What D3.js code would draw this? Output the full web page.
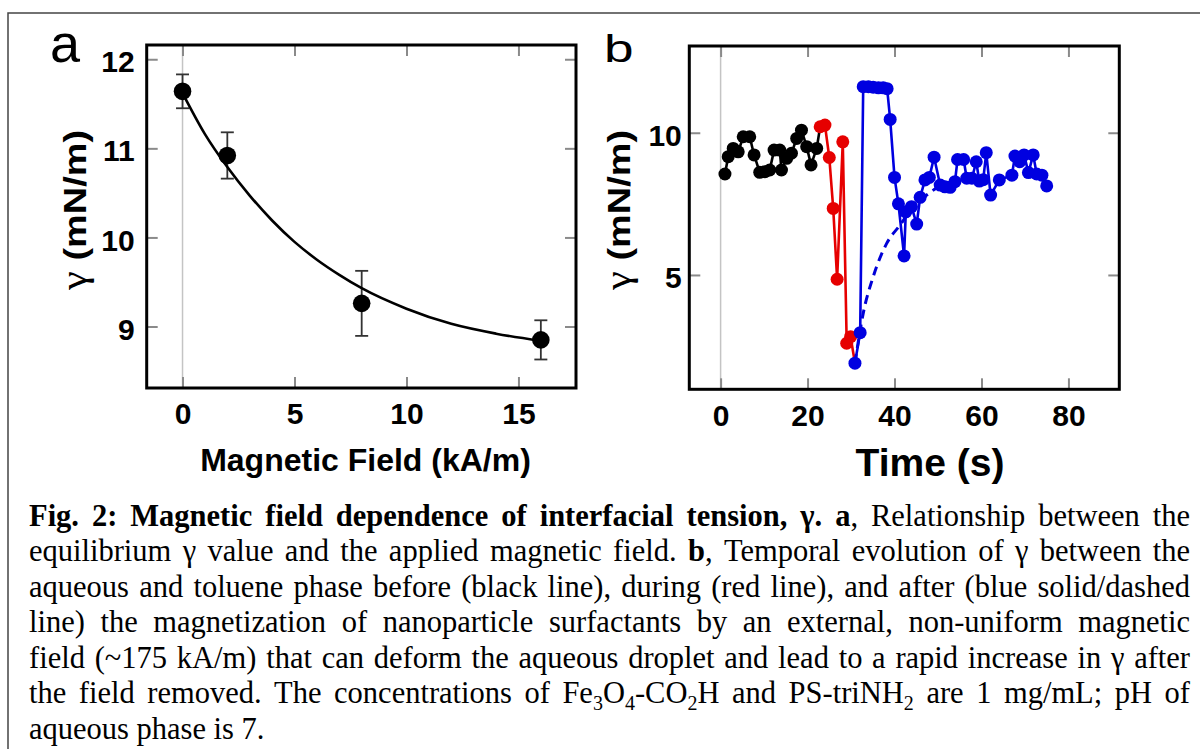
<!DOCTYPE html>
<html>
<head>
<meta charset="utf-8">
<script src="https://cdn.jsdelivr.net/npm/d3@7"></script>
<style>
body { margin: 0; background: #fff; }
svg { display: block; }
</style>
</head>
<body>
<svg id="fig" width="1200" height="749"></svg>
<script>
// ---- panel a: equilibrium tension vs field
const fieldKA = [0, 2, 8, 16];
const gammaA = [11.64, 10.92, 9.26, 8.85];
const errA = [0.19, 0.26, 0.365, 0.22];
const fitField = [0, 1, 2, 3, 4, 5, 6, 7, 8, 10, 12, 14, 16];
const fitGamma = [11.62, 11.16, 10.79, 10.47, 10.19, 9.95, 9.75, 9.58, 9.43, 9.20, 9.03, 8.92, 8.84];
const ticksAx = [0, 5, 10, 15];
const ticksAy = [9, 10, 11, 12];

// ---- panel b: tension vs time
const blackT = [1.0, 1.75, 2.9, 4.05, 5.2, 6.7, 7.7, 9.0, 10.2, 11.3, 12.3, 13.6, 14.0, 15.2, 16.3, 17.5, 18.6, 19.8, 20.8, 22.1];
const blackV = [8.55, 9.16, 9.45, 9.33, 9.86, 9.86, 9.22, 8.61, 8.63, 8.69, 9.39, 9.39, 8.69, 9.1, 9.28, 9.8, 10.09, 9.51, 8.87, 9.45];
const redT = [22.9, 24.0, 25.0, 25.9, 26.8, 28.1, 29.0, 29.9];
const redV = [10.21, 10.27, 9.13, 7.34, 4.85, 9.68, 2.6, 2.83];
const blueT = [30.9, 32.1, 32.8, 34.0, 35.1, 36.3, 37.4, 38.3, 39.0, 40.0, 40.9, 42.2, 42.6, 43.9, 45.1, 45.9, 47.0, 48.0, 49.1, 50.5,
  51.6, 52.8, 53.9, 54.5, 55.9, 56.6, 57.8, 58.8, 59.5, 60.4, 61.1, 62.1, 64.1, 67.0, 67.7, 68.8, 69.8, 70.8, 71.9, 72.7, 73.9, 75.0];
const blueV = [1.9, 2.97, 11.62, 11.62, 11.6, 11.58, 11.58, 11.55, 10.47, 8.43, 7.5, 5.67, 7.22, 7.4, 6.79, 7.73, 8.34, 8.43, 9.14, 8.16,
  8.1, 8.08, 8.28, 9.06, 9.06, 8.4, 8.4, 8.98, 8.3, 8.35, 9.3, 7.81, 8.34, 8.51, 9.18, 8.98, 9.22, 8.6, 9.22, 8.55, 8.51, 8.13];
const dashT = [30.9, 32.8, 35.1, 38.2, 41.3, 44.3, 47.4, 50.5, 52.5];
const dashV = [1.9, 3.65, 4.94, 6.11, 6.76, 7.4, 7.81, 8.13, 8.25];
const ticksBx = [0, 20, 40, 60, 80];
const ticksBy = [5, 10];

// ---- caption ("b" = bold, "s" = subscript)
const captionLines = [
  [["Fig. 2: Magnetic field dependence of interfacial tension, γ. a", "b"], [", Relationship between the", ""]],
  [["equilibrium γ value and the applied magnetic field. ", ""], ["b", "b"], [", Temporal evolution of γ between the", ""]],
  [["aqueous and toluene phase before (black line), during (red line), and after (blue solid/dashed", ""]],
  [["line) the magnetization of nanoparticle surfactants by an external, non-uniform magnetic", ""]],
  [["field (~175 kA/m) that can deform the aqueous droplet and lead to a rapid increase in γ after", ""]],
  [["the field removed. The concentrations of Fe", ""], ["3", "s"], ["O", ""], ["4", "s"], ["-CO", ""], ["2", "s"],
   ["H and PS-triNH", ""], ["2", "s"], [" are 1 mg/mL; pH of", ""]],
  [["aqueous phase is 7.", ""]]
];

const svg = d3.select("#fig");
svg.append("rect").attr("width", 1200).attr("height", 749).attr("fill", "#fff");
svg.append("rect").attr("x", 8).attr("y", 13).attr("width", 1250).attr("height", 800)
  .attr("fill", "none").attr("stroke", "#444").attr("stroke-width", 1.5);

const chart = svg.append("g").attr("font-family", '"Liberation Sans", Arial, sans-serif');

// Set scales of the two panels
const xA = d3.scaleLinear().domain([-1.6, 17.57]).range([146.7, 576]);
const yA = d3.scaleLinear().domain([8.31, 12.16]).range([388, 45]);
const xB = d3.scaleLinear().domain([-7.2, 91.7]).range([689.3, 1119.3]);
const yB = d3.scaleLinear().domain([0.98, 13.05]).range([389.3, 46]);

function styleAxis(sel) {
  sel.attr("font-size", null).attr("font-family", null);
  sel.select(".domain").remove();
  sel.selectAll(".tick line").attr("stroke", "#8a8a8a").attr("stroke-width", 2);
  sel.selectAll(".tick text").attr("fill", "#000").style("font-size", "30px").style("font-weight", "bold");
}

function drawFrame(g, x, y, xt, yt, padY) {
  const [x0, x1] = x.range(), [y0, y1] = y.range();
  // zero line
  g.append("line").attr("x1", x(0)).attr("x2", x(0)).attr("y1", y0).attr("y2", y1)
    .attr("stroke", "#c4c4c4").attr("stroke-width", 1.5);
  g.append("g").attr("transform", `translate(0,${y0})`)
    .call(d3.axisBottom(x).tickValues(xt).tickSize(-11).tickPadding(15).tickFormat(d3.format("d"))).call(styleAxis);
  g.append("g").attr("transform", `translate(0,${y1})`)
    .call(d3.axisTop(x).tickValues(xt).tickSize(-11).tickFormat("")).call(styleAxis);
  g.append("g").attr("transform", `translate(${x0},0)`)
    .call(d3.axisLeft(y).tickValues(yt).tickSize(-11).tickPadding(padY).tickFormat(d3.format("d"))).call(styleAxis)
    .selectAll(".tick text").attr("dy", "0.42em");
  g.append("g").attr("transform", `translate(${x1},0)`)
    .call(d3.axisRight(y).tickValues(yt).tickSize(-11).tickFormat("")).call(styleAxis);
}

function closeFrame(g, x, y) {
  const [x0, x1] = x.range(), [y0, y1] = y.range();
  g.append("rect").attr("x", x0).attr("y", y1).attr("width", x1 - x0).attr("height", y0 - y1)
    .attr("fill", "none").attr("stroke", "#000").attr("stroke-width", 3);
}

function yTitle(g, cx) {
  const t = g.append("text").attr("transform", `translate(${cx},210) rotate(-90)`)
    .attr("text-anchor", "middle").style("font-size", "32px")
    .attr("textLength", 160).attr("lengthAdjust", "spacingAndGlyphs");
  t.append("tspan").attr("font-family", '"Liberation Serif", "Times New Roman", serif').style("font-size", "36px").text("γ");
  t.append("tspan").style("font-weight", "bold").text(" (mN/m)");
}

// ---------------- panel a
const gA = chart.append("g");
drawFrame(gA, xA, yA, ticksAx, ticksAy, 12);

const ptsA = fieldKA.map((f, i) => ({f: f, g: gammaA[i], e: errA[i]}));
const eb = gA.selectAll(".err").data(ptsA).join("g").attr("class", "err")
  .attr("stroke", "#333").attr("stroke-width", 1.8);
eb.append("line").attr("x1", d => xA(d.f)).attr("x2", d => xA(d.f))
  .attr("y1", d => yA(d.g + d.e)).attr("y2", d => yA(d.g - d.e));
eb.append("line").attr("x1", d => xA(d.f) - 6.5).attr("x2", d => xA(d.f) + 6.5)
  .attr("y1", d => yA(d.g + d.e)).attr("y2", d => yA(d.g + d.e));
eb.append("line").attr("x1", d => xA(d.f) - 6.5).attr("x2", d => xA(d.f) + 6.5)
  .attr("y1", d => yA(d.g - d.e)).attr("y2", d => yA(d.g - d.e));

gA.append("path").datum(fitField.map((f, i) => [f, fitGamma[i]]))
  .attr("fill", "none").attr("stroke", "#000").attr("stroke-width", 2.6)
  .attr("d", d3.line().x(d => xA(d[0])).y(d => yA(d[1])).curve(d3.curveMonotoneX));

gA.selectAll(".dotA").data(ptsA).join("circle").attr("class", "dotA")
  .attr("cx", d => xA(d.f)).attr("cy", d => yA(d.g)).attr("r", 8.8).attr("fill", "#000");

closeFrame(gA, xA, yA);

yTitle(gA, 86);
gA.append("text").attr("x", 365.5).attr("y", 471).attr("text-anchor", "middle")
  .style("font-size", "32px").style("font-weight", "bold").text("Magnetic Field (kA/m)");
gA.append("text").attr("x", 50).attr("y", 62).style("font-size", "54px").text("a");

// ---------------- panel b
const gB = chart.append("g");
drawFrame(gB, xB, yB, ticksBx, ticksBy, 7.5);

const lineB = d3.line().x(d => xB(d[0])).y(d => yB(d[1]));
const blackPts = blackT.map((t, i) => [t, blackV[i]]);
const redPts = redT.map((t, i) => [t, redV[i]]);
const bluePts = blueT.map((t, i) => [t, blueV[i]]);

function series(pts, linePts, color) {
  gB.append("path").datum(linePts).attr("fill", "none").attr("stroke", color)
    .attr("stroke-width", 2.6).attr("stroke-linejoin", "round").attr("d", lineB);
  gB.append("g").selectAll("circle").data(pts).join("circle")
    .attr("cx", d => xB(d[0])).attr("cy", d => yB(d[1])).attr("r", 6.5).attr("fill", color);
}

series(blackPts, blackPts.concat([redPts[0]]), "#000");
series(redPts, redPts.concat([bluePts[0]]), "#e60000");
gB.append("path").datum(dashT.map((t, i) => [t, dashV[i]]))
  .attr("fill", "none").attr("stroke", "#0000d8").attr("stroke-width", 3).attr("stroke-dasharray", "9,6")
  .attr("d", lineB.curve(d3.curveMonotoneX));
lineB.curve(d3.curveLinear);
series(bluePts, bluePts, "#0000e0");

closeFrame(gB, xB, yB);

yTitle(gB, 630);
gB.append("text").attr("x", 930).attr("y", 476).attr("text-anchor", "middle")
  .style("font-size", "39px").style("font-weight", "bold").text("Time (s)");
gB.append("text").attr("transform", "translate(604,62) scale(1.4,1)").style("font-size", "38px").text("b");

// ---------------- caption, justified word by word
const capLeft = 29, capRight = 1190, capBase = 525.5, capStep = 35.5;
const cap = svg.append("g").attr("font-family", '"Liberation Serif", "Times New Roman", serif')
  .attr("font-size", 30.5).attr("fill", "#000");

captionLines.forEach((runs, i) => {
  const words = [[]];
  runs.forEach(([txt, st]) => {
    txt.split(" ").forEach((piece, j) => {
      if (j > 0) words.push([]);
      if (piece) words[words.length - 1].push([piece, st]);
    });
  });
  const ws = words.filter(w => w.length);
  const yb = capBase + i * capStep;
  const nodes = ws.map(w => {
    const t = cap.append("text").attr("y", yb);
    let low = false;
    w.forEach(([p, st]) => {
      const ts = t.append("tspan").text(p);
      if (st === "b") ts.attr("font-weight", "bold");
      if (st === "s") { ts.attr("font-size", 20).attr("dy", low ? 0 : 7); low = true; }
      else if (low) { ts.attr("dy", -7); low = false; }
    });
    return t;
  });
  const widths = nodes.map(t => t.node().getComputedTextLength());
  const last = i === captionLines.length - 1;
  const gap = last ? 7.6 : (capRight - capLeft - d3.sum(widths)) / (nodes.length - 1);
  let xx = capLeft;
  nodes.forEach((t, k) => { t.attr("x", xx); xx += widths[k] + gap; });
});
</script>
</body>
</html>
